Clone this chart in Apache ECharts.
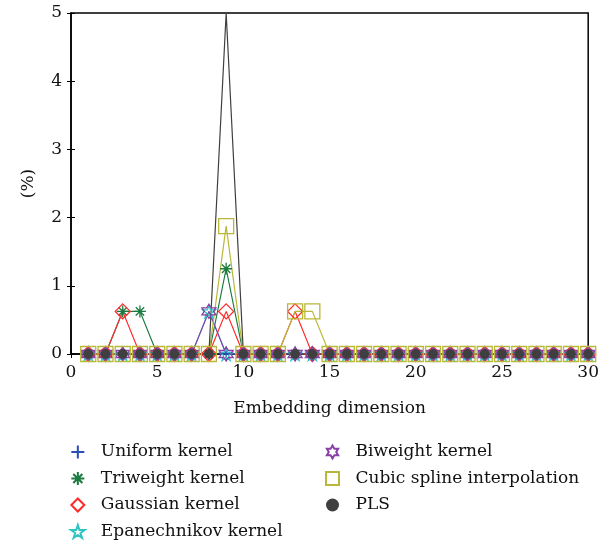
<!DOCTYPE html>
<html><head><meta charset="utf-8">
<script src="https://cdn.jsdelivr.net/npm/echarts@6/dist/echarts.min.js"></script>
<style>html,body{margin:0;padding:0;background:#fff}#c{width:602px;height:544px}</style>
</head><body><div id="c"></div>
<script>
const dims = Array.from({length: 30}, (_, i) => i + 1);
const uniform      = [0,0,0,0,0,0,0,0,0,0,0,0,0,0,0,0,0,0,0,0,0,0,0,0,0,0,0,0,0,0];
const triweight    = [0,0,0.625,0.625,0,0,0,0,1.25,0,0,0,0,0,0,0,0,0,0,0,0,0,0,0,0,0,0,0,0,0];
const gaussian     = [0,0,0.625,0,0,0,0,0,0.625,0,0,0,0.625,0,0,0,0,0,0,0,0,0,0,0,0,0,0,0,0,0];
const epanechnikov = [0,0,0,0,0,0,0,0.625,0,0,0,0,0,0,0,0,0,0,0,0,0,0,0,0,0,0,0,0,0,0];
const biweight     = [0,0,0,0,0,0,0,0.625,0,0,0,0,0,0,0,0,0,0,0,0,0,0,0,0,0,0,0,0,0,0];
const cubic        = [0,0,0,0,0,0,0,0,1.875,0,0,0,0.625,0.625,0,0,0,0,0,0,0,0,0,0,0,0,0,0,0,0];
const pls          = [0,0,0,0,0,0,0,0,5,0,0,0,0,0,0,0,0,0,0,0,0,0,0,0,0,0,0,0,0,0];
const xTicks = [0,5,10,15,20,25,30];
const yTicks = [0,1,2,3,4,5];

const FONT = 'DejaVu Serif';
const FS = 17;
const PLUS = 'path://M0,5L10,5M5,0L5,10';
const AST = 'path://M5,0L5,10M0,5L10,5M1.5,1.5L8.5,8.5M8.5,1.5L1.5,8.5';
const DIAM = 'path://M5,0L10,5L5,10L0,5Z';
const SQR = 'path://M0,0L10,0L10,10L0,10Z';
const STAR5 = 'path://M50,0L61.23,34.55L97.55,34.55L68.16,55.9L79.39,90.45L50,69.1L20.61,90.45L31.84,55.9L2.45,34.55L38.77,34.55Z';
const STAR6 = 'path://M50,0L64.43,25L93.3,25L78.87,50L93.3,75L64.43,75L50,100L35.57,75L6.7,75L21.13,50L6.7,25L35.57,25Z';

function pairs(arr, yMax){
  // points sitting on the top frame have their marker clipped away, as in the reference
  return arr.map((v,i)=> v >= yMax ? {value:[dims[i], v], symbolSize:0} : [dims[i], v]);
}
function mk(name, data, color, symbol, size, filled){
  return {
    name, type:'line', data: pairs(data, yTicks[yTicks.length-1]), symbol, symbolSize: size,
    showAllSymbol: true,
    lineStyle:{color, width:1.2},
    itemStyle: filled ? {color, borderColor: color, borderWidth:0} : {color:'rgba(255,255,255,0)', borderColor: color, borderWidth:1.3},
    emphasis:{disabled:true},
    animation:false
  };
}
const series = [
  mk('Uniform kernel', uniform, '#2b4fb5', PLUS, 12, false),
  mk('Triweight kernel', triweight, '#1b7a3e', AST, 12, false),
  mk('Gaussian kernel', gaussian, '#ff2a2a', DIAM, 15, false),
  mk('Epanechnikov kernel', epanechnikov, '#2ec4c4', STAR5, 13, false),
  mk('Biweight kernel', biweight, '#8a3fa8', STAR6, 14, false),
  mk('Cubic spline interpolation', cubic, '#b9b83a', SQR, 15, false),
  mk('PLS', pls, '#3f3f3f', 'circle', 10, true)
];
const legendCommon = {
  orient:'vertical', itemWidth:36, itemHeight:13, itemGap:6.5, height:140,
  textStyle:{fontFamily:FONT, fontSize:FS, color:'#111', lineHeight:20},
  inactiveColor:'#111', selectedMode:false
};
const tickStyle = {show:true, inside:true, length:4, lineStyle:{color:'#000'}};
const chart = echarts.init(document.getElementById('c'), null, {renderer:'canvas'});
chart.setOption({
  animation:false,
  backgroundColor:'#fff',
  grid:{left:71, right:9, top:13, bottom:190, show:true, borderColor:'#000', borderWidth:1.5, containLabel:false},
  legend:[
    Object.assign({left:65, top:437, data: series.slice(0,4).map(s=>({name:s.name, icon:s.symbol}))}, legendCommon),
    Object.assign({left:320, top:437, data: series.slice(4).map(s=>({name:s.name, icon:s.symbol}))}, legendCommon)
  ],
  xAxis:[{
    type:'value', min:xTicks[0], max:xTicks[xTicks.length-1], interval:5,
    name:'Embedding dimension', nameLocation:'middle', nameGap:46,
    nameTextStyle:{fontFamily:FONT, fontSize:FS, color:'#111'},
    axisLine:{show:true, onZero:false, lineStyle:{color:'#000', width:1.5}},
    axisTick:tickStyle,
    axisLabel:{fontFamily:FONT, fontSize:FS, color:'#111', margin:10},
    splitLine:{show:false}
  },{
    type:'value', position:'top', min:xTicks[0], max:xTicks[xTicks.length-1], interval:5,
    axisLine:{show:false}, axisTick:tickStyle, axisLabel:{show:false}, splitLine:{show:false}
  }],
  yAxis:[{
    type:'value', min:yTicks[0], max:yTicks[yTicks.length-1], interval:1,
    name:'(%)', nameLocation:'middle', nameGap:34, nameRotate:90,
    nameTextStyle:{fontFamily:FONT, fontSize:FS, color:'#111'},
    axisLine:{show:true, lineStyle:{color:'#000', width:1.5}},
    axisTick:tickStyle,
    axisLabel:{fontFamily:FONT, fontSize:FS, color:'#111', margin:9},
    splitLine:{show:false}
  },{
    type:'value', position:'right', min:yTicks[0], max:yTicks[yTicks.length-1], interval:1,
    axisLine:{show:false}, axisTick:tickStyle, axisLabel:{show:false}, splitLine:{show:false}
  }],
  series
});
</script></body></html>
